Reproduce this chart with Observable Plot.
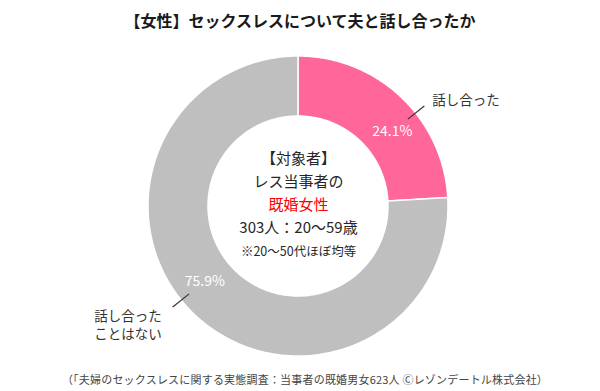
<!DOCTYPE html>
<html><head><meta charset="utf-8">
<script src="https://cdn.jsdelivr.net/npm/d3@7"></script>
<script src="https://cdn.jsdelivr.net/npm/@observablehq/plot@0.6"></script>
<style>
body{margin:0;background:#fff;font-family:"Noto Sans CJK JP","Noto Sans",sans-serif;width:600px;height:391px;overflow:hidden}
#title{height:40px;line-height:40px;text-align:center;font-weight:bold;font-size:16px;color:#1a1a1a}
#caption{height:25px;line-height:27px;text-align:center;font-size:11px;letter-spacing:0.2px;color:#444;padding-left:10px}
</style></head><body>
<div id="title">【女性】セックスレスについて夫と話し合ったか</div>
<div id="chart"></div>
<div id="caption">（「夫婦のセックスレスに関する実態調査：当事者の既婚男女623人 Ⓒレゾンデートル株式会社）</div>
<script>
const categories = ["話し合った", "話し合ったことはない"];
const values = [24.1, 75.9];
const outsideLabels = ["話し合った", "話し合った\nことはない"];
const colors = ["#FF6699", "#BFBFBF"];
const centerLines = ["【対象者】", "レス当事者の", "既婚女性", "303人：20〜59歳", "※20〜50代ほぼ均等"];

const RO = 150, RI = 90, RL = 120, shift = 8 * Math.PI / 180;
const total = d3.sum(values);
let acc = 0;
const slices = categories.map((cat, i) => {
  const a0 = acc / total * 2 * Math.PI;
  acc += values[i];
  const a1 = acc / total * 2 * Math.PI;
  return {cat, value: values[i], a0, a1, mid: (a0 + a1) / 2 + shift, out: outsideLabels[i]};
});
const arcPts = slices.flatMap(s => d3.range(0, 181).map(k => ({cat: s.cat, t: s.a0 + (s.a1 - s.a0) * k / 180})));

const W = 600, H = 326, CX = 298, CY = 166;
const marks = [
  Plot.area(arcPts, {
    x1: d => RO * Math.sin(d.t), y1: d => RO * Math.cos(d.t),
    x2: d => RI * Math.sin(d.t), y2: d => RI * Math.cos(d.t),
    z: "cat", fill: "cat", stroke: "white", strokeWidth: 1.5
  }),
  Plot.text(slices, {x: d => RL * Math.sin(d.mid), y: d => RL * Math.cos(d.mid),
    text: d => d.value.toFixed(1) + "%", fill: "white", fontSize: 14}),
  Plot.link(slices, {x1: d => 140 * Math.sin(d.mid), y1: d => 140 * Math.cos(d.mid),
    x2: d => 161 * Math.sin(d.mid), y2: d => 161 * Math.cos(d.mid), stroke: "#333", strokeWidth: 1.2}),
  Plot.text(slices.filter(d => Math.sin(d.mid) >= 0), {x: d => 161 * Math.sin(d.mid), y: d => 161 * Math.cos(d.mid),
    text: "out", textAnchor: "start", dx: 8, dy: -5, fill: "#333", fontSize: 13.5}),
  Plot.text(slices.filter(d => Math.sin(d.mid) < 0), {x: d => 161 * Math.sin(d.mid), y: d => 161 * Math.cos(d.mid),
    text: "out", textAnchor: "end", dx: -11, dy: 17, lineHeight: 1.4, fill: "#333", fontSize: 13.5}),
  ...centerLines.map((t, i) => Plot.text([t], {x: d => 0, y: d => 0, text: d => d,
    dy: (i - 2) * 23 - 1, fill: i === 2 ? "#FF0000" : "#262626", fontSize: i === 4 ? 12.5 : 15}))
];

const chart = Plot.plot({
  width: W, height: H,
  marginTop: 0, marginRight: 0, marginBottom: 0, marginLeft: 0,
  x: {domain: [-CX, W - CX], axis: null},
  y: {domain: [-(H - CY), CY], axis: null},
  color: {domain: categories, range: colors},
  style: {fontFamily: '"Noto Sans CJK JP","Noto Sans",sans-serif', background: "white"},
  marks
});
document.getElementById("chart").appendChild(chart);
</script>
</body></html>
